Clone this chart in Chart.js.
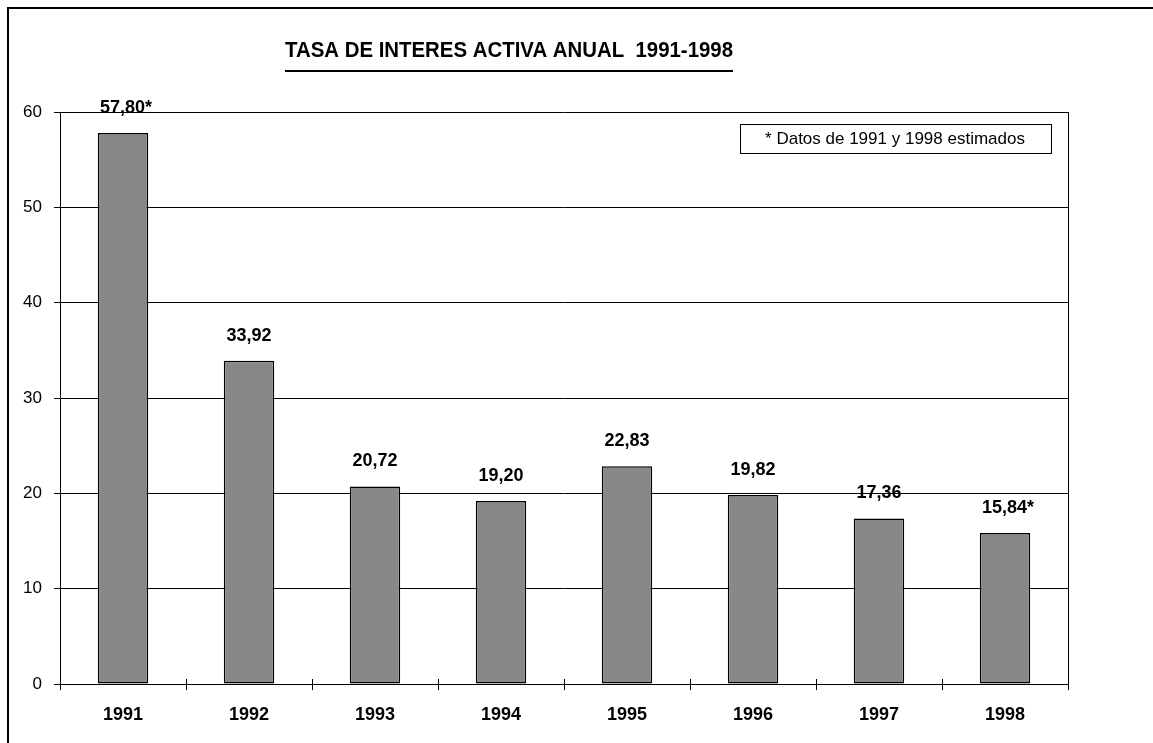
<!DOCTYPE html>
<html>
<head>
<meta charset="utf-8">
<script src="https://cdn.jsdelivr.net/npm/chart.js@4.4.1/dist/chart.umd.min.js"></script>
<style>
  html, body { margin: 0; padding: 0; background: #fff; }
  #wrap { width: 1153px; height: 743px; }
</style>
</head>
<body>
<div id="wrap"><canvas id="tasa"></canvas></div>
<script>
var years = ["1991", "1992", "1993", "1994", "1995", "1996", "1997", "1998"];
var tasa = [57.80, 33.92, 20.72, 19.20, 22.83, 19.82, 17.36, 15.84];
var estimado = [true, false, false, false, false, false, false, true];
var yTicks = [0, 10, 20, 30, 40, 50, 60];

var titulo = "TASA DE INTERES ACTIVA ANUAL  1991-1998";
var nota = "* Datos de 1991 y 1998 estimados";
var fuente = "'Liberation Sans', Arial, sans-serif";

var extras = {
    id: "extras",
    afterDraw: function (chart) {
        var ctx = chart.ctx;
        var area = chart.chartArea;
        var x = chart.scales.x;
        var meta = chart.getDatasetMeta(0);
        ctx.save();

        // caja del area de trazado (lado derecho)
        ctx.strokeStyle = "#000";
        ctx.lineWidth = 1;
        ctx.beginPath();
        ctx.moveTo(Math.round(area.right) + 0.5, area.top);
        ctx.lineTo(Math.round(area.right) + 0.5, area.bottom + 6);
        ctx.stroke();

        // marcas del eje x, cruzando el eje
        var paso = (area.right - area.left) / years.length;
        for (var i = 0; i <= years.length; i++) {
            var px = Math.round(x.getPixelForValue(i) - paso / 2) + 0.5;
            ctx.beginPath();
            ctx.moveTo(px, area.bottom - 5);
            ctx.lineTo(px, area.bottom + 6);
            ctx.stroke();
        }

        // etiquetas de datos
        ctx.fillStyle = "#000";
        ctx.font = "bold 18px " + fuente;
        ctx.textAlign = "center";
        ctx.textBaseline = "middle";
        meta.data.forEach(function (bar, i) {
            var txt = tasa[i].toFixed(2).replace(".", ",") + (estimado[i] ? "*" : "");
            ctx.fillText(txt, bar.x + (estimado[i] ? 3 : 0), bar.y - 25);
        });

        // nota
        ctx.lineWidth = 1;
        ctx.strokeRect(740.5, 124.5, 311, 29);
        ctx.font = "17px " + fuente;
        ctx.fillText(nota, 895, 139);

        // titulo subrayado
        ctx.font = "bold 22px " + fuente;
        var w = ctx.measureText(titulo).width;
        var sx = 448 / w;
        ctx.save();
        ctx.translate(509, 51);
        ctx.scale(sx, 1);
        ctx.fillText(titulo, 0, 0);
        ctx.restore();
        ctx.fillRect(285, 70, 448, 2);

        // marco exterior
        ctx.fillRect(7, 7, 1146, 2);
        ctx.fillRect(7, 7, 2, 736);
        ctx.restore();
    }
};

new Chart(document.getElementById("tasa"), {
    type: "bar",
    data: {
        labels: years,
        datasets: [
            {
                label: "Tasa activa",
                data: tasa,
                backgroundColor: "#888888",
                borderColor: "#000",
                borderWidth: 1.5,
                borderSkipped: false,
                barPercentage: 0.4,
                categoryPercentage: 1
            }
        ]
    },
    options: {
        responsive: true,
        maintainAspectRatio: false,
        animation: false,
        layout: { padding: { top: 112, right: 85, left: 0, bottom: 0 } },
        plugins: {
            legend: { display: false },
            tooltip: { enabled: false }
        },
        scales: {
            x: {
                afterFit: function (s) { s.height = 59; },
                grid: { display: true, drawOnChartArea: false, drawTicks: false, offset: true, color: "#000" },
                border: { display: true, color: "#000", width: 1 },
                ticks: { color: "#000", padding: 20, font: { family: fuente, size: 18, weight: "bold" } }
            },
            y: {
                min: 0,
                max: 60,
                afterFit: function (s) { s.width = 60; },
                afterBuildTicks: function (s) { s.ticks = yTicks.map(function (v) { return { value: v }; }); },
                grid: { color: "#000", lineWidth: 1, tickLength: 6 },
                border: { display: true, color: "#000", width: 1 },
                ticks: { color: "#000", padding: 12, font: { family: fuente, size: 17 } }
            }
        }
    },
    plugins: [extras]
});
</script>
</body>
</html>
